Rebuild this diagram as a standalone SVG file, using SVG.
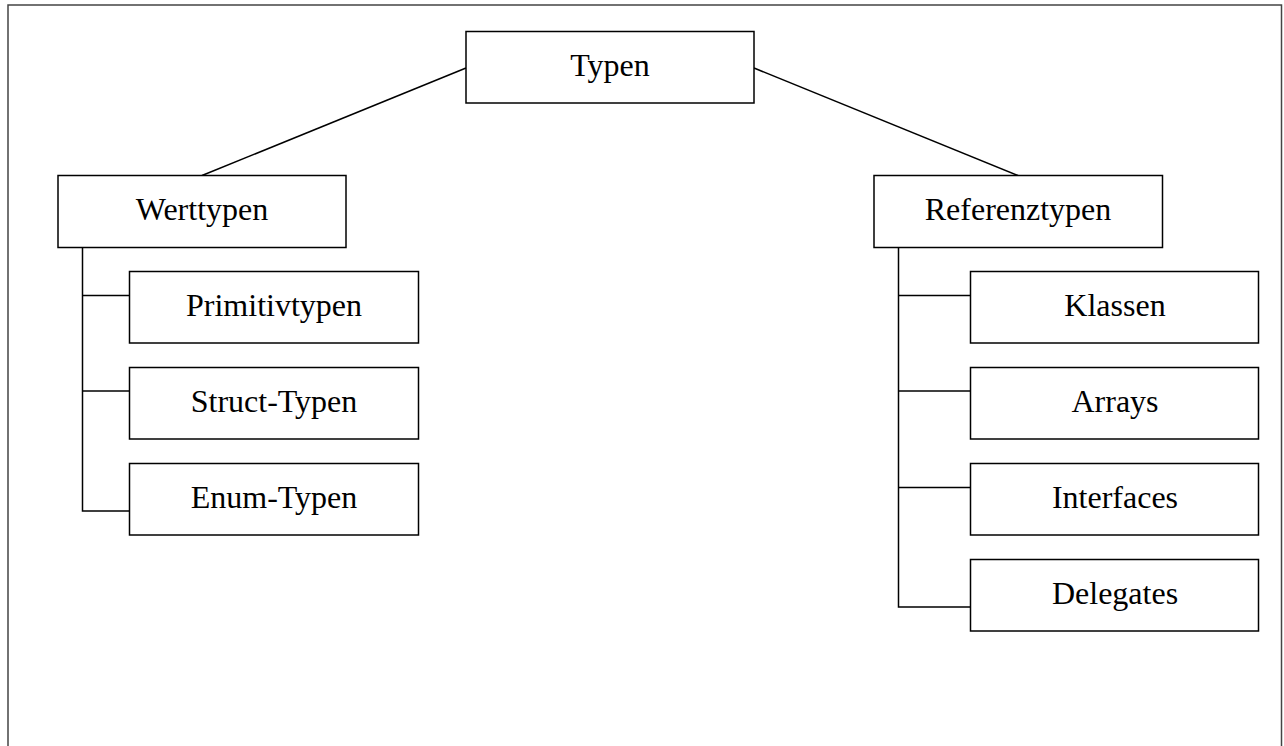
<svg xmlns="http://www.w3.org/2000/svg" width="1284" height="746" viewBox="0 0 1284 746">
<style>
.box{fill:#fff;stroke:#000;stroke-width:1.5}
.lbl{font-family:"Liberation Serif","Times New Roman",serif;font-size:32px;fill:#000;text-anchor:middle}
.con{fill:none;stroke:#000;stroke-width:1.5}
.frame{fill:none;stroke:#444;stroke-width:1.5}
</style>
<rect width="1284" height="746" fill="#fff"/>
<rect class="frame" x="8" y="5" width="1273.5" height="760"/>
<g id="connectors">
<line class="con" x1="466" y1="68" x2="202" y2="175.5"/>
<line class="con" x1="754" y1="68" x2="1018" y2="175.5"/>
<polyline class="con" points="82.5,247.5 82.5,511 129.5,511"/>
<line class="con" x1="82.5" y1="295.5" x2="129.5" y2="295.5"/>
<line class="con" x1="82.5" y1="391" x2="129.5" y2="391"/>
<polyline class="con" points="898.5,247.5 898.5,607 970.5,607"/>
<line class="con" x1="898.5" y1="295.5" x2="970.5" y2="295.5"/>
<line class="con" x1="898.5" y1="391" x2="970.5" y2="391"/>
<line class="con" x1="898.5" y1="487.5" x2="970.5" y2="487.5"/>
</g>
<g id="typen"><rect class="box" x="466" y="31.5" width="288" height="71.5"/><text class="lbl" x="610" y="76">Typen</text></g>
<g id="werttypen"><rect class="box" x="58" y="175.5" width="288" height="72"/><text class="lbl" x="202" y="220">Werttypen</text></g>
<g id="referenztypen"><rect class="box" x="874" y="175.5" width="288.5" height="72"/><text class="lbl" x="1018" y="220">Referenztypen</text></g>
<g id="primitivtypen"><rect class="box" x="129.5" y="271.5" width="289" height="71.5"/><text class="lbl" x="274" y="316">Primitivtypen</text></g>
<g id="structtypen"><rect class="box" x="129.5" y="367.5" width="289" height="71.5"/><text class="lbl" x="274" y="412">Struct-Typen</text></g>
<g id="enumtypen"><rect class="box" x="129.5" y="463.5" width="289" height="71.5"/><text class="lbl" x="274" y="508">Enum-Typen</text></g>
<g id="klassen"><rect class="box" x="970.5" y="271.5" width="288" height="71.5"/><text class="lbl" x="1115" y="316">Klassen</text></g>
<g id="arrays"><rect class="box" x="970.5" y="367.5" width="288" height="71.5"/><text class="lbl" x="1115" y="412">Arrays</text></g>
<g id="interfaces"><rect class="box" x="970.5" y="463.5" width="288" height="71.5"/><text class="lbl" x="1115" y="508">Interfaces</text></g>
<g id="delegates"><rect class="box" x="970.5" y="559.5" width="288" height="71.5"/><text class="lbl" x="1115" y="604">Delegates</text></g>
</svg>
